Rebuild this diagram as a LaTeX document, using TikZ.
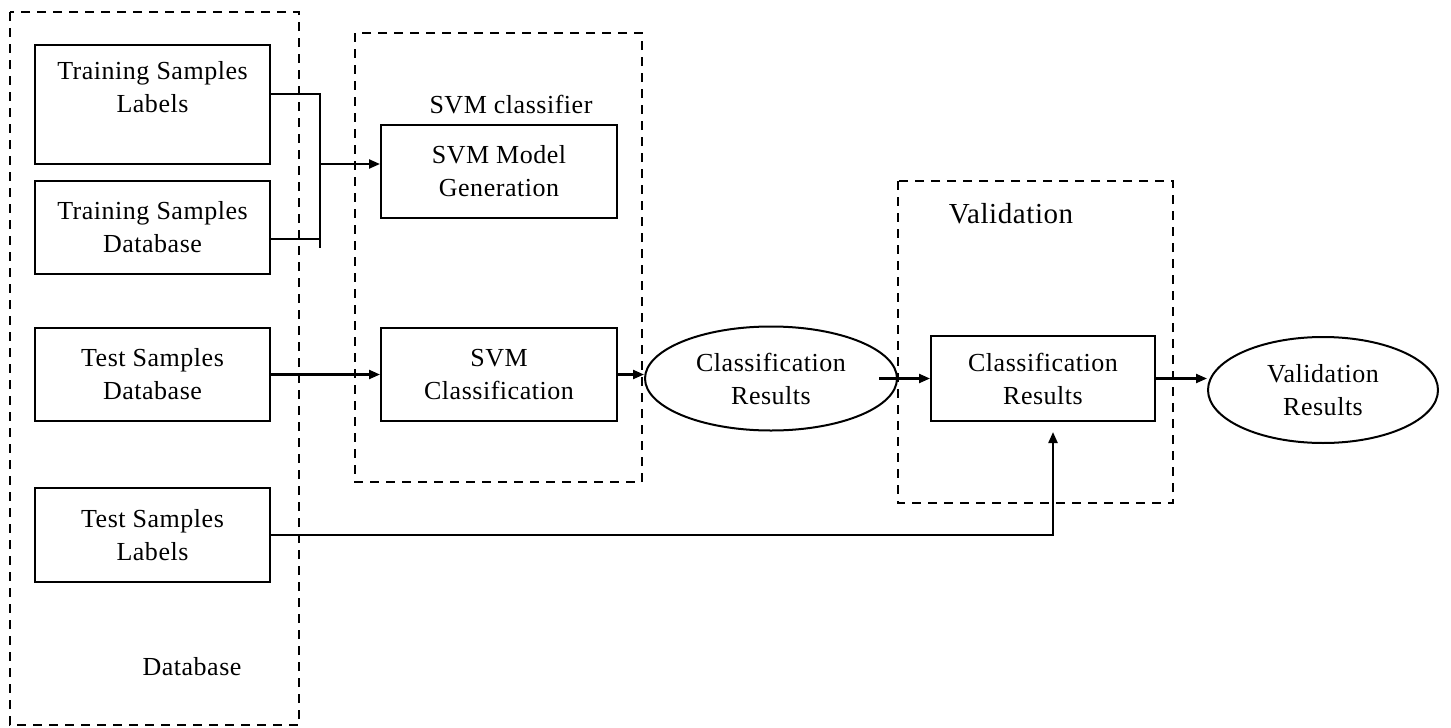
\documentclass[tikz,border=0pt]{standalone}
\usepackage{fontspec}
\setmainfont{Liberation Serif}[LetterSpace=2]
\usetikzlibrary{arrows.meta,shapes.geometric,calc}

\tikzset{
  txt/.style={font={\fontsize{26}{33}\selectfont}, align=center, inner sep=0pt},
  block/.style={txt, draw, line width=2pt, rectangle},
  oval/.style={txt, draw, line width=2pt, ellipse},
  grp/.style={draw, line width=2.2pt, dash pattern=on 9pt off 7pt},
  link/.style={line width=2.2pt},
  arr/.style={link, -{Triangle[length=11pt,width=9pt]}},
}

\begin{document}
\begin{tikzpicture}[x=1pt, y=-1pt]
\useasboundingbox (0,0) rectangle (1451,728);

% dashed group frames
\draw[grp] (10,12) rectangle (299,725);
\draw[grp] (355,33) rectangle (642,482);
\draw[grp] (898,181) rectangle (1173,503);

% group titles
\node[txt, anchor=base] (dbtitle) at (192,675) {Database};
\node[txt, anchor=base] (svmtitle) at (511,113) {SVM classifier};
\node[txt, anchor=base, font={\fontsize{29}{32}\selectfont}] (valtitle) at (1011,223) {Validation};

% database blocks
\node[block, minimum width=235pt, minimum height=119pt] (tsl) at (152.5,104.5) {Training Samples\\Labels\\[2pt]~};
\node[block, minimum width=235pt, minimum height=93pt] (tsd) at (152.5,227.5) {Training Samples\\Database};
\node[block, minimum width=235pt, minimum height=93pt] (ted) at (152.5,374.5) {Test Samples\\Database};
\node[block, minimum width=235pt, minimum height=94pt] (tel) at (152.5,535) {Test Samples\\Labels};

% classifier blocks
\node[block, minimum width=236pt, minimum height=93pt] (gen) at (499,171.5) {SVM Model\\Generation};
\node[block, minimum width=236pt, minimum height=93pt] (cls) at (499,374.5) {SVM\\Classification};

% results
\node[oval, minimum width=252pt, minimum height=104pt] (cres) at (771,378.5) {Classification\\Results};
\node[block, minimum width=224pt, minimum height=85pt] (crbox) at (1043,378.5) {Classification\\Results};
\node[oval, minimum width=230pt, minimum height=106pt] (vres) at (1323,390) {Validation\\Results};

% junction of the two training inputs
\coordinate (jt) at (320,94);
\coordinate (jm) at (320,164);
\coordinate (jb) at (320,248);
\coordinate (tip) at (1053,432);

\draw[link] ([yshift=10.5pt]tsl.east) -- (jt) -- (jb);
\draw[link] ([yshift=-11.5pt]tsd.east) -- (tsd.east |- 0,239) -- (320,239);
\draw[arr] (jm) -- (gen.west |- jm);

\draw[arr] (ted.east) -- (cls.west);
\draw[arr] (cls.east) -- (cls.east -| cres.west);
\draw[arr] ([xshift=-19pt]cres.east) -- (crbox.west);
\draw[arr] (crbox.east) -- (crbox.east -| vres.west);
\draw[arr] (tel.east) -| (tip);

\end{tikzpicture}
\end{document}
